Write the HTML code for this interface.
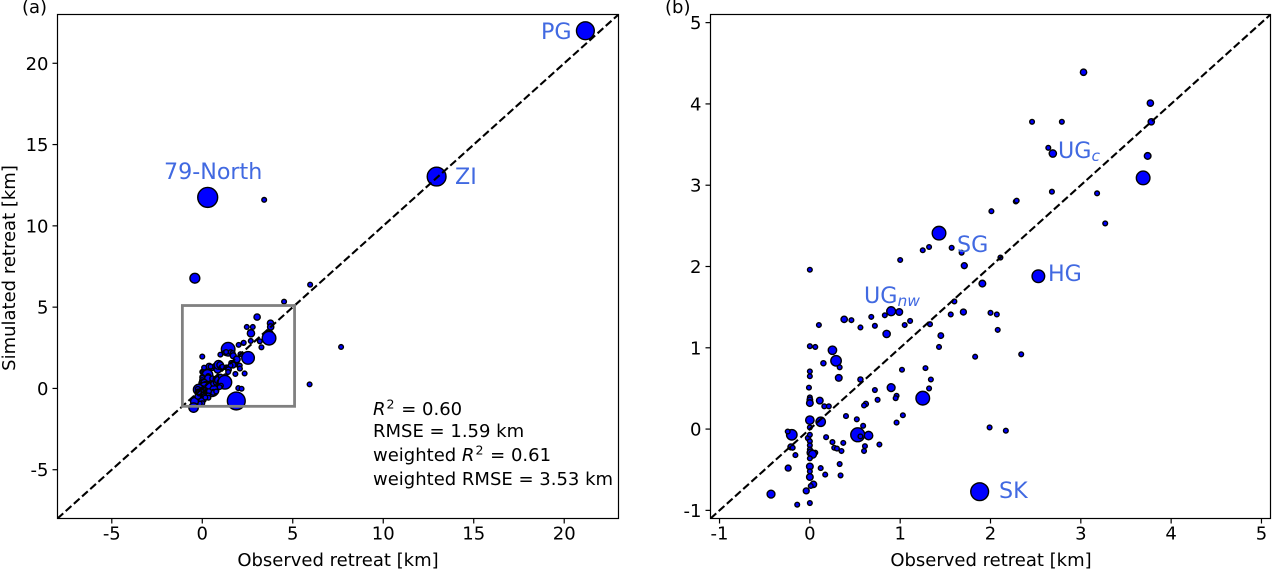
<!DOCTYPE html>
<html lang="en">
<head>
<meta charset="utf-8">
<title>Observed vs simulated retreat</title>
<style>
html,body{margin:0;padding:0;background:#fff;width:1273px;height:569px;overflow:hidden}
svg{display:block}
text{font-family:"DejaVu Sans","Liberation Sans",sans-serif;fill:#000}
.tick{font-size:18px}
.title{font-size:18px}
.ann{font-size:22.2px;fill:#4169e1}
.stat{font-size:18px}
</style>
</head>
<body>
<svg id="chart" xmlns="http://www.w3.org/2000/svg" width="1273" height="569" viewBox="0 0 1273 569">
  <defs>
    <clipPath id="clip-a"><rect x="57" y="14" width="561" height="505"/></clipPath>
    <clipPath id="clip-b"><rect x="710.5" y="14" width="560" height="505"/></clipPath>
  </defs>
  <g id="panel-a"></g>
  <g id="panel-b"></g>

  <text x="22" y="13" class="title">(a)</text>
  <text x="665" y="13" class="title">(b)</text>

  <text x="338" y="566" text-anchor="middle" class="title">Observed retreat [km]</text>
  <text x="991" y="566" text-anchor="middle" class="title">Observed retreat [km]</text>
  <text transform="translate(15 268) rotate(-90)" text-anchor="middle" class="title">Simulated retreat [km]</text>

  <text x="541" y="39" class="ann">PG</text>
  <text x="164" y="179" class="ann">79-North</text>
  <text x="455" y="184" class="ann">ZI</text>

  <g>
    <text x="373" y="415" class="stat"><tspan font-style="italic">R</tspan><tspan dx="1" dy="-6.5" font-size="12.6">2</tspan><tspan dx="1" dy="6.5"> = 0.60</tspan></text>
    <text x="373" y="437" class="stat">RMSE = 1.59 km</text>
    <text x="373" y="461" class="stat">weighted <tspan font-style="italic">R</tspan><tspan dx="1" dy="-6.5" font-size="12.6">2</tspan><tspan dx="1" dy="6.5"> = 0.61</tspan></text>
    <text x="373" y="485" class="stat">weighted RMSE = 3.53 km</text>
  </g>

  <text x="1058" y="158" class="ann">UG<tspan font-style="italic" font-size="15.5" dy="3">c</tspan></text>
  <text x="957" y="252" class="ann">SG</text>
  <text x="1048" y="281" class="ann">HG</text>
  <text x="864" y="303" class="ann">UG<tspan font-style="italic" font-size="15.5" dy="3">nw</tspan></text>
  <text x="999" y="498" class="ann">SK</text>
</svg>
<script>
// Observed retreat [km], one glacier per entry
const observed = [
  0.00,0.06,0.25,0.15,0.29,0.33,0.00,0.00,0.32,-0.01,
  0.56,0.00,0.00,0.00,0.11,0.16,0.21,0.00,0.12,0.00,
  0.40,0.52,0.59,0.53,0.56,0.65,0.61,0.60,0.77,0.62,
  0.60,0.72,0.75,0.56,0.72,0.68,0.83,0.38,0.46,0.10,
  0.85,0.90,0.90,-0.20,-0.245,-0.02,0.00,0.00,0.00,0.00,
  0.01,0.06,0.03,0.00,0.00,0.00,0.00,0.04,0.01,-0.04,
  0.00,-0.14,-0.43,-0.24,-0.16,-0.21,-0.19,0.18,0.25,0.27,
  0.30,0.35,0.37,0.33,0.34,0.12,0.17,1.43,1.25,1.32,
  1.00,1.57,1.68,2.01,2.28,1.71,2.11,1.91,2.53,1.60,
  1.70,1.56,2.00,2.07,2.08,0.99,1.05,1.11,1.33,1.45,
  1.43,1.83,2.34,1.02,1.28,1.34,1.32,0.96,0.95,1.25,
  1.03,0.96,1.99,2.17,3.03,3.77,3.78,2.46,2.79,2.64,
  2.69,3.74,3.69,2.68,3.18,2.29,3.27,0.00,1.88,21.17,
  12.95,0.30,3.42,-0.41,5.96,4.52,7.67,5.93,-0.48
];
// Simulated retreat [km]
const simulated = [
  1.02,1.01,0.97,0.81,0.84,0.76,0.71,0.65,0.63,0.51,
  0.61,0.39,0.36,0.32,0.35,0.28,0.28,0.11,0.09,0.02,
  0.16,0.12,0.04,-0.07,-0.09,-0.08,-0.21,-0.27,-0.19,0.31,
  0.29,0.48,0.36,1.25,1.27,1.38,1.40,1.35,1.34,1.28,
  1.17,0.51,1.45,-0.07,-0.03,-0.11,-0.07,-0.15,-0.20,-0.25,
  -0.29,-0.29,-0.31,-0.36,-0.46,-0.52,-0.59,-0.68,-0.70,-0.76,
  -0.91,-0.93,-0.80,-0.48,-0.32,-0.22,-0.23,-0.10,-0.16,-0.23,
  -0.24,-0.27,-0.17,-0.43,-0.57,-0.48,-0.56,2.41,2.20,2.24,
  2.08,2.23,2.17,2.68,2.80,2.01,2.11,1.79,1.88,1.57,
  1.44,1.41,1.43,1.41,1.22,1.44,1.28,1.33,1.29,1.15,
  1.01,0.89,0.92,0.73,0.75,0.61,0.50,0.41,0.38,0.38,
  0.17,0.08,0.02,-0.02,4.39,4.01,3.78,3.78,3.78,3.46,
  3.39,3.36,3.09,2.92,2.90,2.81,2.53,1.96,-0.77,22.00,
  13.03,11.75,11.60,6.78,6.38,5.34,2.55,0.25,-1.18
];
// Relative glacier weight (marker area)
const weights = [
  5,5,16,6,25,5,5,5,10,5,
  6,5,7,10,10,5,5,16,20,5,
  5,5,5,44,5,16,5,5,5,6,
  5,5,5,5,5,5,5,9,5,5,
  12,14,18,25,5,6,5,5,5,5,
  12,5,14,5,10,5,10,9,5,8,
  5,5,14,8,5,8,5,5,5,5,
  5,5,5,5,5,5,5,42,5,5,
  5,5,5,5,5,8,5,10,36,5,
  8,5,5,5,5,10,5,5,5,7,
  5,5,5,5,5,5,5,5,5,42,
  5,5,5,5,9,9,9,5,5,5,
  12,10,42,5,5,5,5,5,72,72,
  80,90,5,22,5,5,5,5,20
];
const panelATicks = [-5,0,5,10,15,20];
const panelBTicks = [-1,0,1,2,3,4,5];
const panelALimits = [-8,23];
const panelBLimits = [-1.1,5.1];
const insetRange = [-1.1,5.1];

const SVG_NS = 'http://www.w3.org/2000/svg';
function make(parent, tag, attrs, text) {
  const el = document.createElementNS(SVG_NS, tag);
  for (const k in attrs) el.setAttribute(k, attrs[k]);
  if (text !== undefined) el.textContent = text;
  parent.appendChild(el);
  return el;
}
function drawPanel(id, box, limits, ticks, clipId, withInset) {
  const root = document.getElementById(id);
  const xA = v => box.x0 + (v - limits[0]) / (limits[1] - limits[0]) * (box.x1 - box.x0);
  const yA = v => box.y1 - (v - limits[0]) / (limits[1] - limits[0]) * (box.y1 - box.y0);

  const marks = make(root, 'g', {'clip-path': 'url(#' + clipId + ')'});
  
  
  observed.forEach((o, i) => {
    const c = make(marks, 'circle', {cx: xA(o), cy: yA(simulated[i]), r: Math.sqrt(weights[i]) * 1.05, fill: '#0000ff', stroke: '#000', 'stroke-width': 1.4});
    
    
  });

  const line = make(marks, 'line', {x1: xA(limits[0]), y1: yA(limits[0]), x2: xA(limits[1]), y2: yA(limits[1]), stroke: '#000', 'stroke-width': 2.1, 'stroke-dasharray': '7.7 3.3'});
  
  

  if (withInset) {
    const inset = make(root, 'rect', {x: xA(insetRange[0]), y: yA(insetRange[1]), width: xA(insetRange[1]) - xA(insetRange[0]), height: yA(insetRange[0]) - yA(insetRange[1]), fill: 'none', stroke: '#808080', 'stroke-width': 2.8});
    
    
  }

  const frame = make(root, 'rect', {x: box.x0, y: box.y0, width: box.x1 - box.x0, height: box.y1 - box.y0, fill: 'none', stroke: '#000', 'stroke-width': 1.2});
  
  

  ticks.forEach(t => {
    const xt = make(root, 'line', {x1: xA(t), x2: xA(t), y1: box.y1, y2: box.y1 + 5, stroke: '#000', 'stroke-width': 1.2});
    
    
    const xl = make(root, 'text', {x: xA(t), y: box.y1 + 21, 'text-anchor': 'middle', class: 'tick'}, String(t));
    
    
    const yt = make(root, 'line', {x1: box.x0 - 5, x2: box.x0, y1: yA(t), y2: yA(t), stroke: '#000', 'stroke-width': 1.2});
    
    
    const yl = make(root, 'text', {x: box.x0 - 9, y: yA(t) + 6.5, 'text-anchor': 'end', class: 'tick'}, String(t));
    
    
  });
}
drawPanel('panel-a', {x0: 57.5, x1: 618.5, y0: 14.5, y1: 518.5}, panelALimits, panelATicks, 'clip-a', true);
drawPanel('panel-b', {x0: 710.5, x1: 1270.5, y0: 14.5, y1: 518.5}, panelBLimits, panelBTicks, 'clip-b', false);
</script>
</body>
</html>
